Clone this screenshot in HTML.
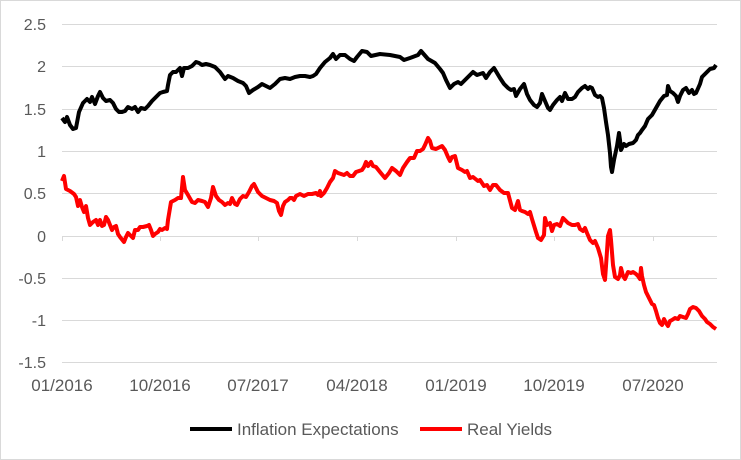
<!DOCTYPE html>
<html><head><meta charset="utf-8"><style>
html,body{margin:0;padding:0;background:#fff;}
svg{display:block;font-family:"Liberation Sans",Calibri,sans-serif;}
</style></head><body>
<svg width="741" height="460" viewBox="0 0 741 460">
<rect x="0.5" y="0.5" width="740" height="459" fill="#fff" stroke="#d9d9d9"/>
<g stroke="#d9d9d9" stroke-width="1">
<line x1="62" x2="717" y1="24.5" y2="24.5"/><line x1="62" x2="717" y1="66.5" y2="66.5"/>
<line x1="62" x2="717" y1="109.5" y2="109.5"/><line x1="62" x2="717" y1="151.5" y2="151.5"/>
<line x1="62" x2="717" y1="193.5" y2="193.5"/><line x1="62" x2="717" y1="278.5" y2="278.5"/>
<line x1="62" x2="717" y1="320.5" y2="320.5"/><line x1="62" x2="717" y1="362.5" y2="362.5"/>
<line x1="62" x2="717" y1="236.5" y2="236.5"/>
<line x1="62.5" x2="62.5" y1="236" y2="241"/><line x1="160.5" x2="160.5" y1="236" y2="241"/>
<line x1="258.5" x2="258.5" y1="236" y2="241"/><line x1="357.5" x2="357.5" y1="236" y2="241"/>
<line x1="456.5" x2="456.5" y1="236" y2="241"/><line x1="554.5" x2="554.5" y1="236" y2="241"/>
<line x1="653.5" x2="653.5" y1="236" y2="241"/>
</g>
<g fill="#595959" font-size="16" text-anchor="end">
<text x="46" y="30">2.5</text><text x="46" y="72">2</text><text x="46" y="115">1.5</text>
<text x="46" y="157">1</text><text x="46" y="199">0.5</text><text x="46" y="242">0</text>
<text x="46" y="284">-0.5</text><text x="46" y="326">-1</text><text x="46" y="368">-1.5</text>
</g>
<g fill="#595959" font-size="17" text-anchor="middle">
<text x="62" y="391">01/2016</text><text x="160" y="391">10/2016</text><text x="258" y="391">07/2017</text>
<text x="357" y="391">04/2018</text><text x="456" y="391">01/2019</text><text x="554" y="391">10/2019</text>
<text x="653" y="391">07/2020</text>
</g>
<polyline fill="none" stroke="#000" stroke-width="4" stroke-linejoin="round" points="62,118 65,122 67,117 70,125 73,129 76,128 79,112 83,103 87,99 90,102 92,97 95,104 98,96 100,92 103,98 106,101 110,100 113,103 116,109 119,112 122,112 125,111 128,107 132,109 135,107 138,112 141,108 145,109 148,106 152,101 156,97 160,93 163,92 167,91 168,85 170,75 173,72 176,72 180,68 182,76 184,68 188,68 192,66 196,62 199,63 202,65 206,64 210,65 215,67 220,72 225,79 228,76 233,78 238,81 243,83 246,86 249,93 253,90 258,87 262,84 266,86 270,88 275,84 280,79 285,78 290,79 295,77 300,76 305,76 310,77 313,76 316,74 320,68 325,62 330,58 333,54 336,59 340,55 345,55 350,59 354,61 357,57 362,51 367,52 371,56 380,54 390,55 400,57 404,60 410,58 418,55 421,51 428,59 435,63 440,69 443,73 446,80 450,88 454,84 458,82 461,84 465,80 470,75 473,72 477,75 483,73 486,78 490,72 494,68 497,73 500,78 504,84 508,88 511,90 514,89 516,96 520,89 524,84 527,94 530,100 534,105 537,107 540,103 542,94 545,101 548,108 550,110 553,105 557,100 560,97 562,101 565,93 568,99 572,99 575,97 578,92 582,88 585,86 588,89 590,87 592,88 595,95 598,97 600,96 602,98 604,108 606,122 608,135 610,153 611,167 612,172 614,160 617,146 619,133 620,140 621,150 624,144 626,146 629,144 633,143 636,140 638,135 640,133 642,130 645,126 648,119 652,115 656,108 660,101 664,96 667,95 668,86 670,91 673,93 676,96 678,102 680,96 683,90 686,88 689,93 692,90 694,94 696,93 700,84 702,77 705,74 707,72 710,69 714,68 716,65"/>
<polyline fill="none" stroke="#ff0000" stroke-width="4" stroke-linejoin="round" points="62,181 64,176 66,189 70,191 74,194 76,197 78,206 80,200 82,207 84,212 86,206 88,218 90,225 93,222 96,220 98,225 100,220 102,226 104,225 106,217 108,220 110,225 112,230 114,227 116,226 118,234 120,237 124,242 126,237 128,233 131,236 133,238 135,230 138,230 140,227 143,227 147,226 149,225 151,230 153,236 155,234 158,232 160,229 162,230 165,228 167,229 168,220 171,202 175,200 178,198 181,198 183,177 185,190 188,195 192,202 195,203 198,200 202,201 205,202 208,207 211,198 213,187 216,196 219,200 222,202 225,205 228,203 230,204 232,198 235,204 237,205 240,199 243,196 246,197 249,192 252,186 254,184 256,188 258,192 262,196 266,198 270,200 274,201 277,203 279,211 281,215 283,206 285,202 288,200 290,198 292,198 294,200 296,196 300,194 304,196 308,194 312,194 316,193 318,195 320,191 321,196 324,193 327,188 330,182 333,178 335,171 338,173 341,174 344,175 347,173 350,176 353,176 356,172 359,171 362,170 364,167 366,162 368,166 371,162 373,166 376,167 380,172 385,178 389,173 392,168 396,171 400,175 403,168 407,162 410,158 414,158 417,151 420,151 423,149 425,145 428,138 430,141 432,148 436,149 440,147 442,146 445,150 448,157 450,161 452,157 455,156 458,168 462,170 465,172 467,171 470,178 473,177 478,181 480,180 484,186 487,185 490,190 493,185 496,185 500,190 504,193 508,193 512,208 515,210 518,201 520,210 522,211 525,212 528,214 530,212 532,219 536,232 538,238 541,240 544,235 545,218 547,225 550,223 552,231 554,225 557,224 560,226 563,218 566,221 568,223 572,225 575,225 578,224 580,229 583,231 585,228 587,233 590,240 593,243 595,241 598,248 601,258 603,274 605,280 606,266 608,236 610,230 611,240 613,265 615,277 618,279 620,275 621,268 623,276 625,279 628,272 631,273 633,272 636,274 638,276 640,279 641,268 642,276 644,285 646,292 648,296 650,300 652,304 654,305 656,311 658,318 660,323 662,325 664,319 666,323 668,326 670,321 672,320 675,318 678,319 680,316 683,317 686,318 688,314 690,309 693,307 696,308 699,311 702,316 705,319 707,322 710,324 713,327 716,329"/>
<line x1="190" x2="232" y1="429" y2="429" stroke="#000" stroke-width="4"/>
<text x="237" y="435" fill="#595959" font-size="17">Inflation Expectations</text>
<line x1="420" x2="462" y1="429" y2="429" stroke="#ff0000" stroke-width="4"/>
<text x="467" y="435" fill="#595959" font-size="17">Real Yields</text>
</svg>
</body></html>
